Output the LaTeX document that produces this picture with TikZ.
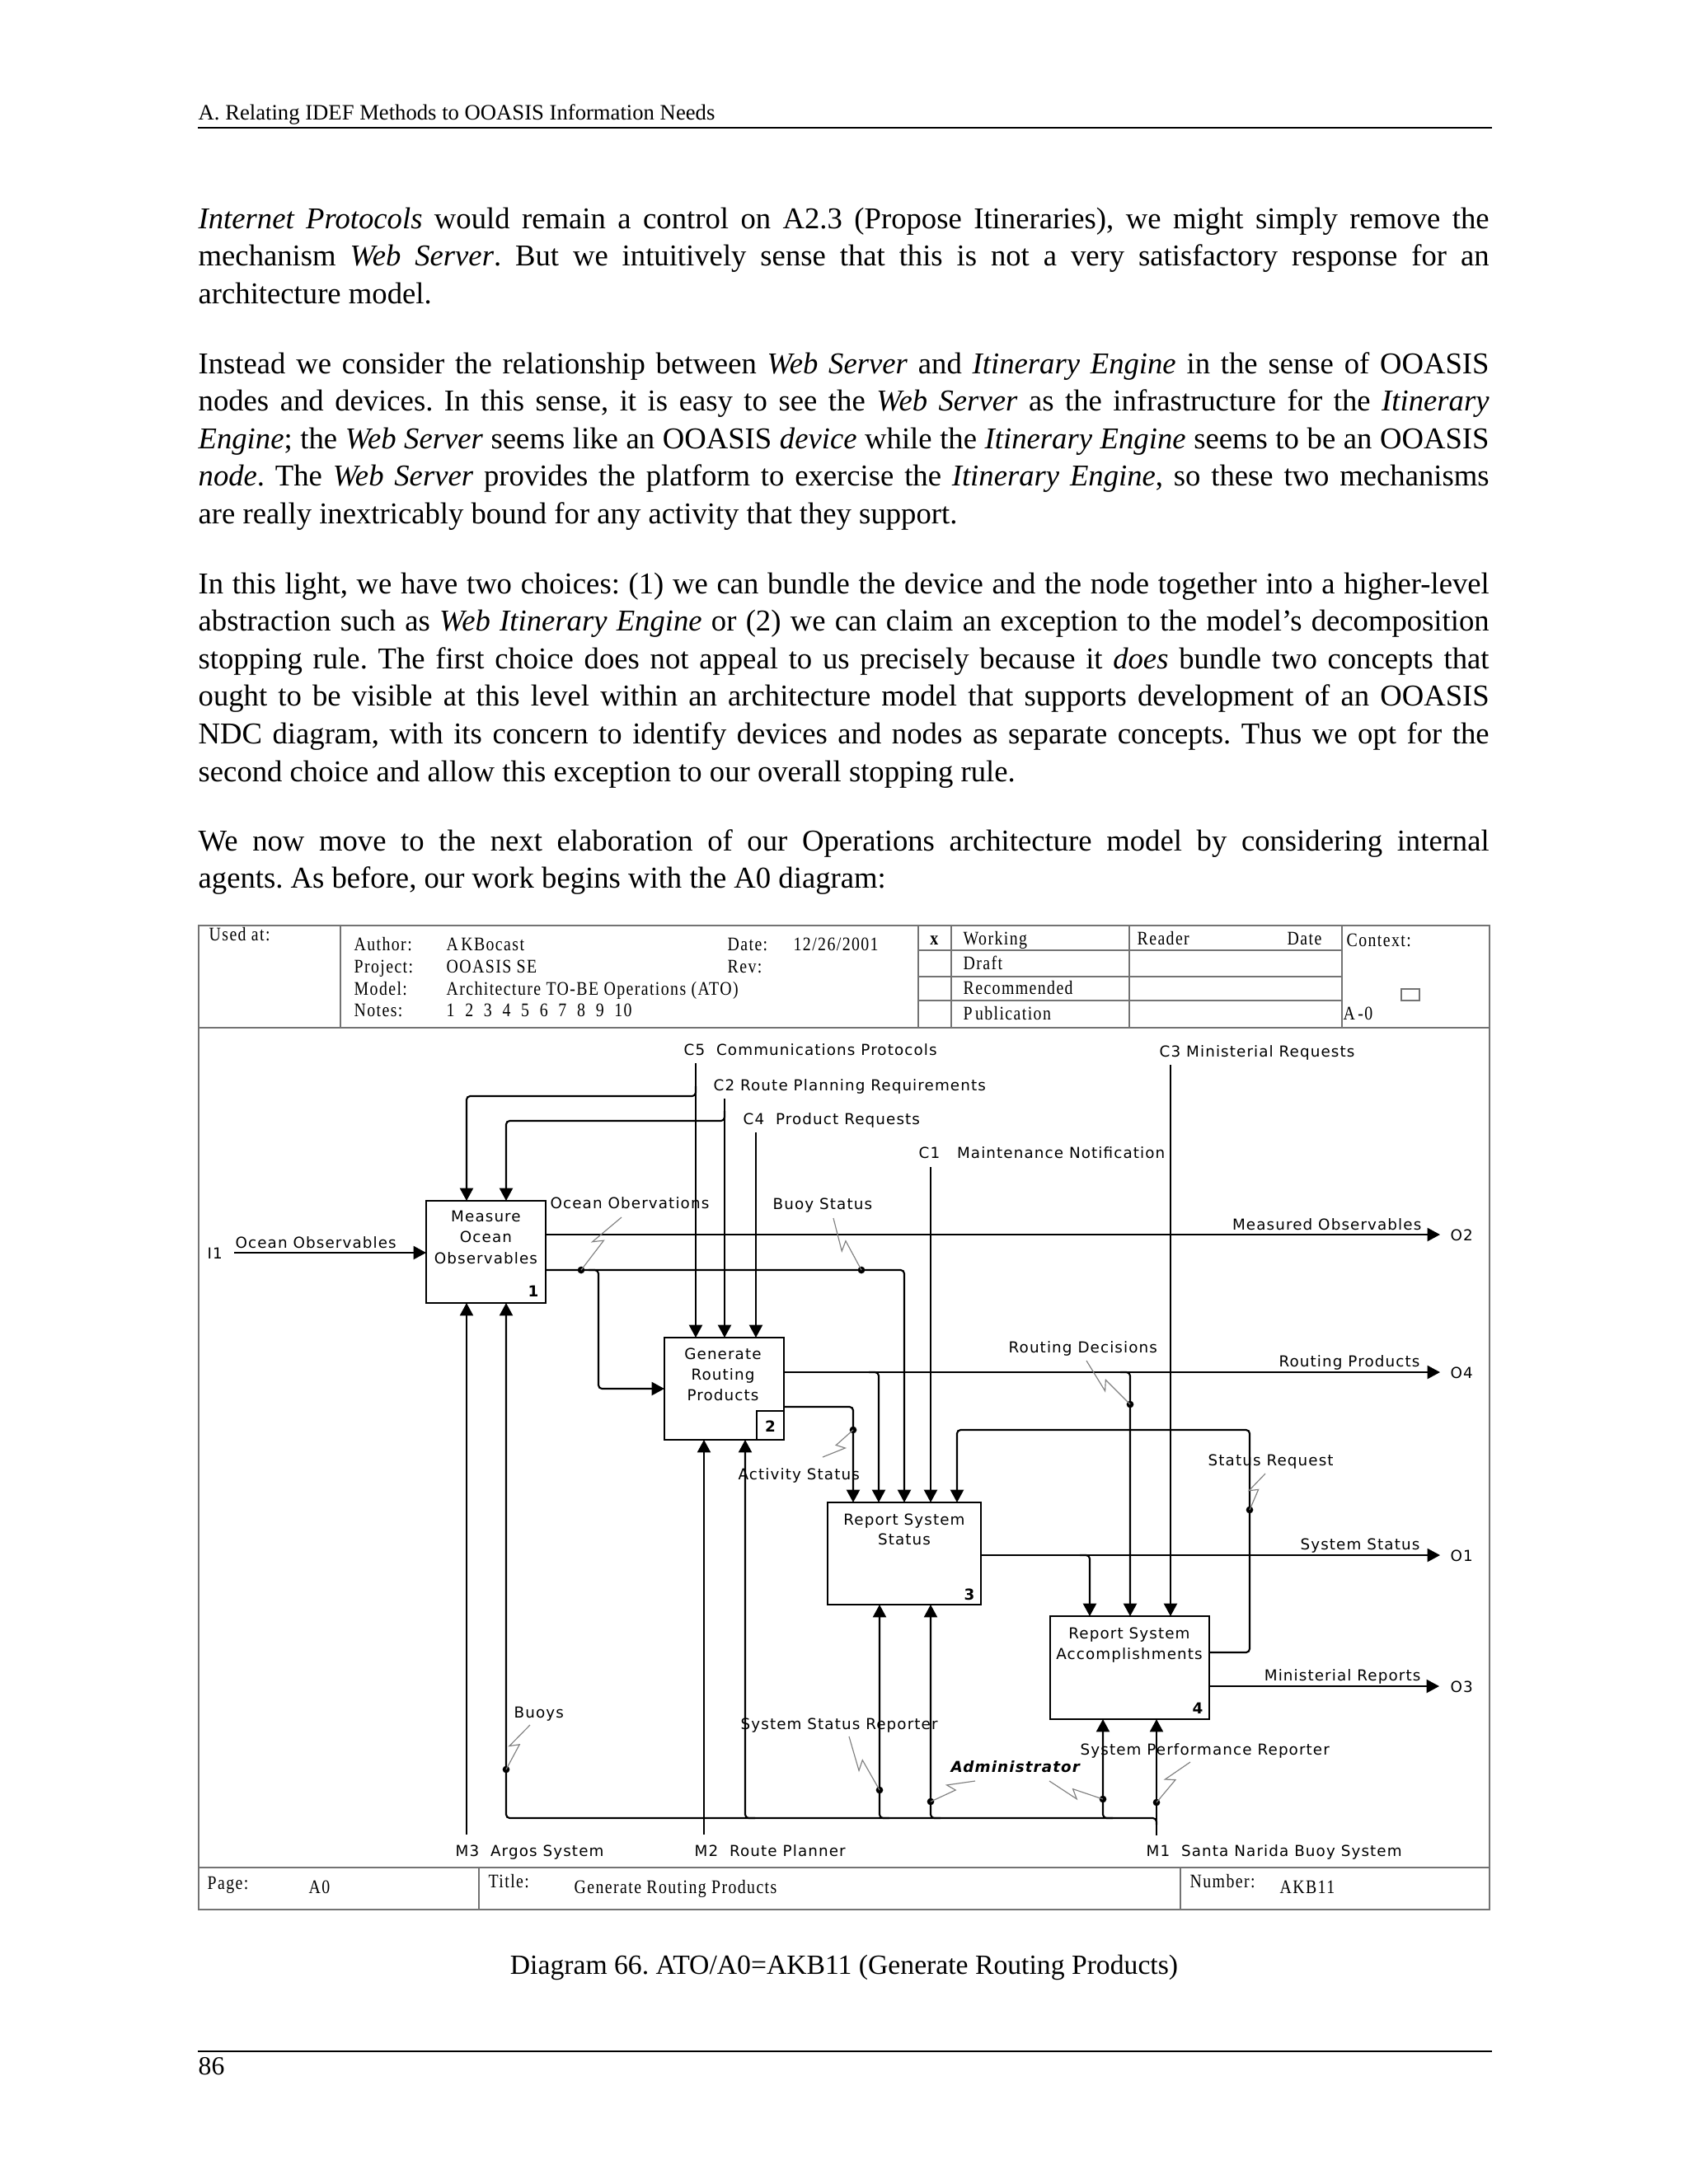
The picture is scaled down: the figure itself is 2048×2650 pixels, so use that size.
\documentclass[tikz,border=0pt]{standalone}
\usepackage{fontspec}
\setmainfont{Liberation Serif}
\newfontfamily\dfont[LetterSpace=6]{DejaVu Sans}
\newfontfamily\hfont[FakeStretch=0.85,LetterSpace=6]{Liberation Serif}
\usetikzlibrary{arrows.meta,calc}
\frenchspacing
\def\PX{0.0041504in}
\newcommand\bodyfont{\fontsize{11pt}{13.68pt}\selectfont}
\newcommand\JL[3]{\node[anchor=base west,inner sep=0pt,font=\bodyfont] (#1) at (240,#2) {\makebox[469.7pt][s]{#3}};}
\newcommand\PL[3]{\node[anchor=base west,inner sep=0pt,font=\bodyfont] (#1) at (240,#2) {#3};}
\newcommand\lab[4][base west]{\node[lbl,anchor=#1] (#2) at (#3) {#4};}
\newcommand\hlab[4][base west]{\node[hlbl,anchor=#1] (#2) at (#3) {#4};}
\newcommand\squig[2]{\draw[squigline] (#1) -- ($(#1)!0.56!(#2)$) -- ($(#1)!0.44!(#2)!3pt!90:(#2)$) -- (#2);}
\newcommand\jdot[1]{\fill (#1) circle (1.3pt);}
\tikzset{
  lbl/.style={font=\dfont\fontsize{5.5pt}{7.65pt}\selectfont, inner sep=0pt},
  hlbl/.style={font=\hfont\fontsize{7pt}{8pt}\selectfont, inner sep=0pt},
  frame/.style={draw=black!55, line width=0.5pt},
  ln/.style={line width=0.65pt, rounded corners=1.3pt},
  arr/.style={ln, -{Triangle[length=4.6pt,width=4.8pt]}},
  squigline/.style={draw=black!50, line width=0.35pt},
  abox/.style={draw, line width=0.6pt, inner sep=0pt},
}
\begin{document}
\begin{tikzpicture}[x=0.0041504in, y=-0.0041504in]
\useasboundingbox (0,0) rectangle (2048,2650);

% ---------- page header ----------
\node[anchor=base west, inner sep=0pt, font=\fontsize{8pt}{9pt}\selectfont] (hdr) at (240,145) {A. Relating IDEF Methods to OOASIS Information Needs};
\draw[line width=0.8pt] (240,155) -- (1810,155);

% ---------- body text ----------
\JL{p1a}{277}{\textit{Internet Protocols} would remain a control on A2.3 (Propose Itineraries), we might simply remove the}
\JL{p1b}{322.6}{mechanism \textit{Web Server}. But we intuitively sense that this is not a very satisfactory response for an}
\PL{p1c}{368.2}{architecture model.}

\JL{p2a}{453}{Instead we consider the relationship between \textit{Web Server} and \textit{Itinerary Engine} in the sense of OOASIS}
\JL{p2b}{498.6}{nodes and devices. In this sense, it is easy to see the \textit{Web Server} as the infrastructure for the \textit{Itinerary}}
\JL{p2c}{544.2}{\textit{Engine}; the \textit{Web Server} seems like an OOASIS \textit{device} while the \textit{Itinerary Engine} seems to be an OOASIS}
\JL{p2d}{589.8}{\textit{node}. The \textit{Web Server} provides the platform to exercise the \textit{Itinerary Engine}, so these two mechanisms}
\PL{p2e}{635.4}{are really inextricably bound for any activity that they support.}

\JL{p3a}{720}{In this light, we have two choices: (1) we can bundle the device and the node together into a higher-level}
\JL{p3b}{765.6}{abstraction such as \textit{Web Itinerary Engine} or (2) we can claim an exception to the model’s decomposition}
\JL{p3c}{811.2}{stopping rule. The first choice does not appeal to us precisely because it \textit{does} bundle two concepts that}
\JL{p3d}{856.8}{ought to be visible at this level within an architecture model that supports development of an OOASIS}
\JL{p3e}{902.4}{NDC diagram, with its concern to identify devices and nodes as separate concepts. Thus we opt for the}
\PL{p3f}{948}{second choice and allow this exception to our overall stopping rule.}

\JL{p4a}{1032}{We now move to the next elaboration of our Operations architecture model by considering internal}
\PL{p4b}{1077.6}{agents. As before, our work begins with the A0 diagram:}

% ---------- diagram frame ----------
\draw[frame] (241,1123) rectangle (1807,2317);
\draw[frame] (241,1247) -- (1807,1247);
\draw[frame] (413,1123) -- (413,1247);
\draw[frame] (1114,1123) -- (1114,1247);
\draw[frame] (1154,1123) -- (1154,1247);
\draw[frame] (1370,1123) -- (1370,1247);
\draw[frame] (1628,1123) -- (1628,1247);
\draw[frame] (1114,1153) -- (1628,1153);
\draw[frame] (1114,1185) -- (1628,1185);
\draw[frame] (1114,1214) -- (1628,1214);
\draw[frame] (1700,1200) rectangle (1722,1214);
\draw[frame] (241,2266) -- (1807,2266);
\draw[frame] (581,2266) -- (581,2317);
\draw[frame] (1432,2266) -- (1432,2317);

% header fields
\hlab{usedat}{253,1141}{Used at:}
\hlab{author}{429,1153}{Author:}
\hlab{authorv}{541,1153}{A\kern1pt KBocast}
\hlab{date}{882,1153}{Date:}
\hlab{datev}{962,1153}{12/26/2001}
\hlab{project}{429,1180}{Project:}
\hlab{projectv}{541,1180}{OOASIS SE}
\hlab{rev}{882,1180}{Rev:}
\hlab{model}{429,1207}{Model:}
\hlab{modelv}{541,1207}{Architecture TO-BE Operations (ATO)}
\hlab{notes}{429,1233}{Notes:}
\hlab{notesv}{541,1233}{1\ \ 2\ \ 3\ \ 4\ \ 5\ \ 6\ \ 7\ \ 8\ \ 9\ \ 10}
\hlab[base]{xmark}{1134,1146}{\textbf{x}}
\hlab{working}{1168,1146}{Working}
\hlab{reader}{1379,1146}{Reader}
\hlab{rdate}{1561,1146}{Date}
\hlab{context}{1633,1148}{Context:}
\hlab{draft}{1168,1176}{Draft}
\hlab{recom}{1168,1206}{Recommended}
\hlab{publ}{1168,1237}{P\kern1pt ublication}
\hlab{aminus}{1629,1237}{A\kern1pt -0}

% footer fields
\hlab{page}{251,2292}{Page:}
\hlab{pagev}{374,2297}{A0}
\hlab{title}{592,2290}{Title:}
\hlab{titlev}{696,2297}{Generate Routing Products}
\hlab{number}{1443,2290}{Number:}
\hlab{numberv}{1552,2297}{AKB11}

% ---------- activity boxes ----------
\node[abox, minimum width=145*\PX, minimum height=124*\PX] (b1) at (589.5,1519) {};
\node[abox, minimum width=145*\PX, minimum height=124*\PX] (b2) at (878.5,1685) {};
\node[abox, minimum width=186*\PX, minimum height=124*\PX] (b3) at (1097,1885) {};
\node[abox, minimum width=193*\PX, minimum height=125*\PX] (b4) at (1370.5,2023.5) {};
\draw[line width=0.6pt] (918,1712) rectangle (951,1747);

\lab[base]{b1t1}{589.5,1482.5}{Measure}
\lab[base]{b1t2}{589.5,1507.5}{Ocean}
\lab[base]{b1t3}{589.5,1533.5}{Observables}
\lab[base]{b1n}{647,1573}{\bfseries 1}
\lab[base]{b2t1}{877,1649.5}{Generate}
\lab[base]{b2t2}{877,1674.5}{Routing}
\lab[base]{b2t3}{877,1699.5}{Products}
\lab[base]{b2n}{934.5,1737}{\bfseries 2}
\lab[base]{b3t1}{1097,1850.5}{Report System}
\lab[base]{b3t2}{1097,1874.5}{Status}
\lab[base]{b3n}{1176,1941}{\bfseries 3}
\lab[base]{b4t1}{1370,1988.5}{Report System}
\lab[base]{b4t2}{1370,2013.5}{Accomplishments}
\lab[base]{b4n}{1453,2079}{\bfseries 4}

% ---------- controls ----------
\coordinate (c5) at (844,1290);
\coordinate (c2) at (879,1333);
\coordinate (c4) at (917,1374);
\coordinate (c1) at (1129,1416);
\coordinate (c3) at (1420,1292);
\draw[arr] (c5) -- (844,1623);
\draw[arr] (844,1318) -- (844,1330) -- (566,1330) -- (566,1457);
\draw[arr] (c2) -- (879,1623);
\draw[arr] (879,1348) -- (879,1360) -- (614,1360) -- (614,1457);
\draw[arr] (c4) -- (917,1623);
\draw[arr] (c1) -- (1129,1823);
\draw[arr] (c3) -- (1420,1961);

% ---------- input ----------
\coordinate (i1) at (284,1520);
\draw[arr] (i1) -- (517,1520);

% ---------- outputs and internal arrows ----------
\draw[arr] (662,1498) -- (1747,1498);
\draw[arr] (662,1541) -- (1097,1541) -- (1097,1823);
\draw[arr] (714,1541) -- (726,1541) -- (726,1685) -- (806,1685);
\draw[arr] (951,1665) -- (1747,1665);
\draw[arr] (1054,1665) -- (1066,1665) -- (1066,1823);
\draw[arr] (1359,1665) -- (1371,1665) -- (1371,1961);
\draw[arr] (951,1707) -- (1035,1707) -- (1035,1823);
\draw[arr] (1190,1887) -- (1747,1887);
\draw[arr] (1310,1887) -- (1322,1887) -- (1322,1961);
\draw[arr] (1467,2005) -- (1516,2005) -- (1516,1735) -- (1161,1735) -- (1161,1823);
\draw[arr] (1467,2046) -- (1746,2046);

% ---------- mechanisms ----------
\coordinate (m3) at (566,2226);
\coordinate (m2) at (854,2226);
\coordinate (m1) at (1403,2227);
\draw[arr] (m3) -- (566,1581);
\draw[arr] (m2) -- (854,1747);
\draw[arr] (m1) -- (1403,2086);
\draw[arr] (1403,2214) -- (1403,2206) -- (614,2206) -- (614,1581);
\draw[arr] (916,2206) -- (904,2206) -- (904,1747);
\draw[arr] (1079,2206) -- (1067,2206) -- (1067,1947);
\draw[arr] (1141,2206) -- (1129,2206) -- (1129,1947);
\draw[arr] (1350,2206) -- (1338,2206) -- (1338,2086);

% ---------- junction dots and squiggles ----------
\jdot{705,1541} \squig{705,1541}{754,1477}
\jdot{1045,1541} \squig{1045,1541}{1011,1478}
\jdot{1371,1704} \squig{1371,1704}{1318,1651}
\jdot{1035,1735} \squig{1035,1735}{998,1768}
\jdot{1516,1832} \squig{1516,1832}{1535,1788}
\jdot{614,2147} \squig{614,2147}{643,2093}
\jdot{1067,2172} \squig{1067,2172}{1030,2107}
\jdot{1129,2186} \squig{1129,2186}{1183,2161}
\jdot{1338,2183} \squig{1338,2183}{1273,2161}
\jdot{1403,2187} \squig{1403,2187}{1444,2138}

% ---------- arrow labels ----------
\lab{lc5}{829,1280}{C5\ \ Communications Protocols}
\lab{lc2}{865,1323}{C2 Route Planning Requirements}
\lab{lc4}{901,1364}{C4\ \ Product Requests}
\lab{lc1}{1114,1405}{C1\ \ \ Maintenance Notification}
\lab{lc3}{1406,1282}{C3 Ministerial Requests}
\lab{li1}{251,1527}{I1}
\lab{lin}{285,1514}{Ocean Observables}
\lab{locob}{667,1466}{Ocean Obervations}
\lab{lbuoy}{937,1467}{Buoy Status}
\lab[base east]{lmeas}{1725,1492}{Measured Observables}
\lab{lo2}{1759,1505}{O2}
\lab{lrdec}{1223,1641}{Routing Decisions}
\lab[base east]{lrprod}{1723,1658}{Routing Products}
\lab{lo4}{1759,1672}{O4}
\lab{lact}{895,1795}{Activity Status}
\lab{lsreq}{1465,1778}{Status Request}
\lab[base east]{lsstat}{1723,1880}{System Status}
\lab{lo1}{1759,1894}{O1}
\lab[base east]{lmin}{1724,2039}{Ministerial Reports}
\lab{lo3}{1759,2053}{O3}
\lab{lbuoys}{623,2084}{Buoys}
\lab{lssr}{898,2098}{System Status Reporter}
\lab{lspr}{1310,2129}{System Performance Reporter}
\lab{ladm}{1153,2150}{\bfseries\itshape Administrator}
\lab{lm3}{552,2252}{M3\ \ Argos System}
\lab{lm2}{842,2252}{M2\ \ Route Planner}
\lab{lm1}{1390,2252}{M1\ \ Santa Narida Buoy System}

% ---------- caption and page footer ----------
\node[anchor=base, inner sep=0pt, font=\fontsize{10.1pt}{12pt}\selectfont] (cap) at (1024,2395) {Diagram 66. ATO/A0=AKB11 (Generate Routing Products)};
\draw[line width=0.8pt] (240,2489) -- (1810,2489);
\node[anchor=base west, inner sep=0pt, font=\fontsize{9.5pt}{11pt}\selectfont] (pnum) at (240,2517) {86};
\end{tikzpicture}
\end{document}
